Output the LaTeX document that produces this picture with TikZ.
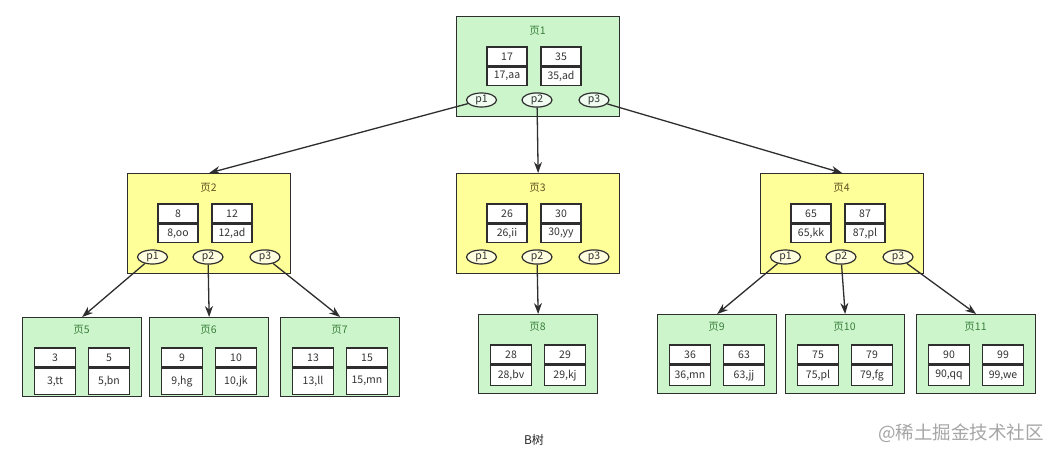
\documentclass[tikz,border=0pt]{standalone}
\usepackage{fontspec}
\setmainfont{Noto Sans CJK SC}
\usetikzlibrary{calc,arrows.meta,shapes.geometric}
\definecolor{pgreen}{HTML}{CCF5CC}
\definecolor{pyellow}{HTML}{FFFF99}
\definecolor{ln}{HTML}{2E2E2E}
\definecolor{tgreen}{HTML}{3A7F3A}
\definecolor{tyellow}{HTML}{5E5020}
\tikzset{
  pagebox/.style={draw=ln, line width=1.3pt, inner sep=0pt, anchor=north west},
  greenpage/.style={pagebox, fill=pgreen},
  yellowpage/.style={pagebox, fill=pyellow},
  ttlgreen/.style={text=tgreen, font=\fontsize{10.5}{11}\selectfont, inner sep=0pt},
  ttlyellow/.style={text=tyellow, font=\fontsize{10.5}{11}\selectfont, inner sep=0pt},
  cell/.style={draw=ln, line width=1.2pt, fill=white, inner sep=0pt,
    font=\fontsize{10.5}{11}\selectfont, text=black!80},
  ptr/.style={ellipse, draw=ln, line width=1.2pt, inner sep=0pt, minimum width=30pt,
    minimum height=14pt, font=\fontsize{10.5}{11}\selectfont, text=black!80},
  ptrgreen/.style={ptr, fill=pgreen!30!white},
  ptryellow/.style={ptr, fill=pyellow!30!white},
  arr/.style={draw=ln, line width=1.3pt, -{Stealth[length=11pt,width=8pt]}},
}
% inner page: name, x, y, title, k1, v1, k2, v2, kind
\newcommand{\innerpage}[9]{%
  \node[#9page, minimum width=163pt, minimum height=100pt] (#1) at (#2,#3) {};
  \node[ttl#9] (#1t) at ($(#1.north west)+(81.5,15)$) {#4};
  \node[cell, minimum width=40pt, minimum height=19pt] (#1ak) at ($(#1.north west)+(51,40.5)$) {#5};
  \node[cell, minimum width=40pt, minimum height=18pt, anchor=north] (#1av) at (#1ak.south) {#6};
  \node[cell, minimum width=40pt, minimum height=19pt] (#1bk) at ($(#1.north west)+(105,40.5)$) {#7};
  \node[cell, minimum width=40pt, minimum height=18pt, anchor=north] (#1bv) at (#1bk.south) {#8};
  \node[ptr#9] (#1p1) at ($(#1.north west)+(25.5,84)$) {p1};
  \node[ptr#9] (#1p2) at ($(#1.north west)+(81,84)$) {p2};
  \node[ptr#9] (#1p3) at ($(#1.north west)+(138,84)$) {p3};
}
% leaf page: name, x, y, title, k1, v1, k2, v2, bottom cell height
\newcommand{\leafpage}[9]{%
  \node[greenpage, minimum width=119pt, minimum height=79pt] (#1) at (#2,#3) {};
  \node[ttlgreen] (#1t) at ($(#1.north west)+(59.5,13)$) {#4};
  \node[cell, minimum width=41pt, minimum height=19pt] (#1ak) at ($(#1.north west)+(33,40.5)$) {#5};
  \node[cell, minimum width=41pt, minimum height=#9pt, anchor=north] (#1av) at (#1ak.south) {#6};
  \node[cell, minimum width=41pt, minimum height=19pt] (#1bk) at ($(#1.north west)+(87,40.5)$) {#7};
  \node[cell, minimum width=41pt, minimum height=#9pt, anchor=north] (#1bv) at (#1bk.south) {#8};
}
\begin{document}
\begin{tikzpicture}[x=1pt,y=-1pt]
\fill[white] (0,0) rectangle (1060,458);
\useasboundingbox (0,0) rectangle (1060,458);

\innerpage{P1}{456}{16}{页1}{17}{17,aa}{35}{35,ad}{green}
\innerpage{P2}{127}{173}{页2}{8}{8,oo}{12}{12,ad}{yellow}
\innerpage{P3}{456}{173}{页3}{26}{26,ii}{30}{30,yy}{yellow}
\innerpage{P4}{760}{173}{页4}{65}{65,kk}{87}{87,pl}{yellow}

\leafpage{L5}{22}{317}{页5}{3}{3,tt}{5}{5,bn}{26}
\leafpage{L6}{149}{317}{页6}{9}{9,hg}{10}{10,jk}{26}
\leafpage{L7}{280}{317}{页7}{13}{13,ll}{15}{15,mn}{26}
\leafpage{L8}{478}{314}{页8}{28}{28,bv}{29}{29,kj}{20}
\leafpage{L9}{657}{314}{页9}{36}{36,mn}{63}{63,jj}{20}
\leafpage{L10}{785}{314}{页10}{75}{75,pl}{79}{79,fg}{20}
\leafpage{L11}{916}{314}{页11}{90}{90,qq}{99}{99,we}{20}

\draw[arr] (P1p1) -- (P2.north);
\draw[arr] (P1p2) -- (P3.north);
\draw[arr] (P1p3) -- (P4.north);
\draw[arr] (P2p1) -- (L5.north);
\draw[arr] (P2p2) -- (L6.north);
\draw[arr] (P2p3) -- (L7.north);
\draw[arr] (P3p2) -- (L8.north);
\draw[arr] (P4p1) -- (L9.north);
\draw[arr] (P4p2) -- (L10.north);
\draw[arr] (P4p3) -- (L11.north);

\node[font=\fontsize{12}{13}\selectfont, text=black!85] (cap) at (534,440) {B树};
\node[font=\fontsize{18.5}{19}\selectfont, text=black!35, anchor=east, inner sep=0pt] (wm) at (1044,433) {@稀土掘金技术社区};
\end{tikzpicture}
\end{document}
